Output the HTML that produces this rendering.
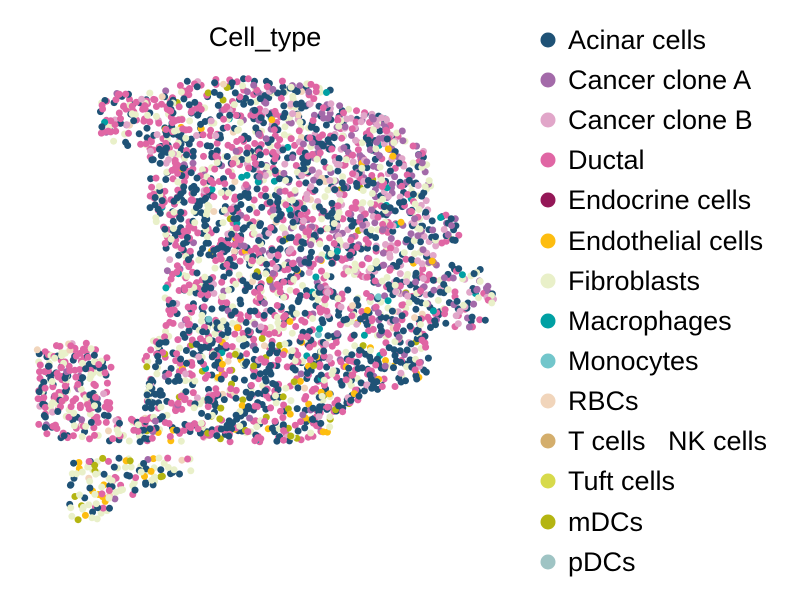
<!DOCTYPE html>
<html><head><meta charset="utf-8"><style>
html,body{margin:0;padding:0;background:#fff;width:805px;height:605px;overflow:hidden}
svg{display:block}
text{font-family:"Liberation Sans",Arial,sans-serif;fill:#000}
</style></head><body>
<svg id="s" width="805" height="605" viewBox="0 0 805 605" xmlns="http://www.w3.org/2000/svg">
<g id="dots"></g>
<text x="265" y="46" font-size="27" text-anchor="middle">Cell_type</text>
<g font-size="27">
<circle cx="548" cy="40" r="7.5" fill="#1f5276"/><text x="568" y="49">Acinar cells</text>
<circle cx="548" cy="80" r="7.5" fill="#a36aa9"/><text x="568" y="89">Cancer clone A</text>
<circle cx="548" cy="120" r="7.5" fill="#e1a6c9"/><text x="568" y="129">Cancer clone B</text>
<circle cx="548" cy="160" r="7.5" fill="#e066a4"/><text x="568" y="169">Ductal</text>
<circle cx="548" cy="200" r="7.5" fill="#941757"/><text x="568" y="209">Endocrine cells</text>
<circle cx="548" cy="241" r="7.5" fill="#fdbd10"/><text x="568" y="250">Endothelial cells</text>
<circle cx="548" cy="281" r="7.5" fill="#e9f0c9"/><text x="568" y="290">Fibroblasts</text>
<circle cx="548" cy="321" r="7.5" fill="#00a0a3"/><text x="568" y="330">Macrophages</text>
<circle cx="548" cy="361" r="7.5" fill="#72c6cb"/><text x="568" y="370">Monocytes</text>
<circle cx="548" cy="401" r="7.5" fill="#f1d5bb"/><text x="568" y="410">RBCs</text>
<circle cx="548" cy="441" r="7.5" fill="#d4ae6c"/><text x="568" y="450" xml:space="preserve">T cells   NK cells</text>
<circle cx="548" cy="481" r="7.5" fill="#d7da4b"/><text x="568" y="490">Tuft cells</text>
<circle cx="548" cy="522" r="7.5" fill="#b4b511"/><text x="568" y="531">mDCs</text>
<circle cx="548" cy="562" r="7.5" fill="#9fc4c4"/><text x="568" y="571">pDCs</text>
</g>
</svg>
<script>
(function(){
var seed=12345;function r(){seed=(seed*1103515245+12345)%2147483648;return seed/2147483648;}
var main=[[100,95],[175,88],[180,80],[215,78],[300,80],[335,90],[345,108],[380,115],[410,130],[430,160],[432,212],[462,214],[462,242],[432,247],[440,265],[480,265],[495,290],[490,322],[465,330],[430,330],[428,375],[405,385],[370,392],[345,410],[330,432],[300,442],[170,442],[145,428],[145,345],[165,335],[165,240],[150,210],[150,147],[120,147],[100,140]];
var left=[[37,343],[90,343],[110,360],[115,370],[110,385],[118,418],[150,420],[160,432],[150,442],[110,442],[60,438],[37,432]];
var bot=[[67,457],[195,457],[195,470],[140,490],[100,522],[70,522]];
function inP(x,y,p){var c=false;for(var i=0,j=p.length-1;i<p.length;j=i++){var a=p[i],b=p[j];if(((a[1]>y)!=(b[1]>y))&&(x<(b[0]-a[0])*(y-a[1])/(b[1]-a[1])+a[0]))c=!c;}return c;}
var C={ac:"#1f5276",A:"#a36aa9",B:"#e1a6c9",du:"#e066a4",en:"#fdbd10",fi:"#e9f0c9",ma:"#00a0a3",rb:"#f1d5bb",md:"#b4b511",mo:"#72c6cb"};
function pick(x,y){
 var w={ac:30,A:3,B:3,du:30,en:1,fi:14,ma:1.2,rb:1.5,md:0.5,mo:0.2};
 var tr=Math.max(0,(x-230)/200)*Math.max(0,1-(y-80)/300);
 w.A+=45*tr;w.B+=30*tr;w.fi+=12*tr;w.du-=15*tr;w.ac-=10*tr;
 if(y>340&&x>140){w.md+=6;w.en+=3;w.ac+=10;}
 if(x<200&&y<350){w.du+=20;}
 if(y>450){w.fi+=30;w.md+=10;w.en+=6;w.du-=10;}
 if(x<150&&y>340&&y<450){w.du+=15;w.fi+=10;}
 var t=0,k;for(k in w){if(w[k]<0)w[k]=0;t+=w[k];}
 var v=r()*t;for(k in w){v-=w[k];if(v<=0)return C[k];}return C.ac;
}
var g=document.getElementById("dots"),out="";
function fill(p,n,x0,y0,x1,y1){var c=0,tries=0;while(c<n&&tries<n*20){tries++;var x=x0+r()*(x1-x0),y=y0+r()*(y1-y0);if(!inP(x,y,p))continue;if(r()<0.12)continue;out+='<circle cx="'+x.toFixed(1)+'" cy="'+y.toFixed(1)+'" r="3.5" fill="'+pick(x,y)+'"/>';c++;}}
fill(main,2900,95,75,500,445);
fill(left,280,35,340,165,445);
fill(bot,120,65,455,200,525);
g.innerHTML=out;
})();
</script>
</body></html>
